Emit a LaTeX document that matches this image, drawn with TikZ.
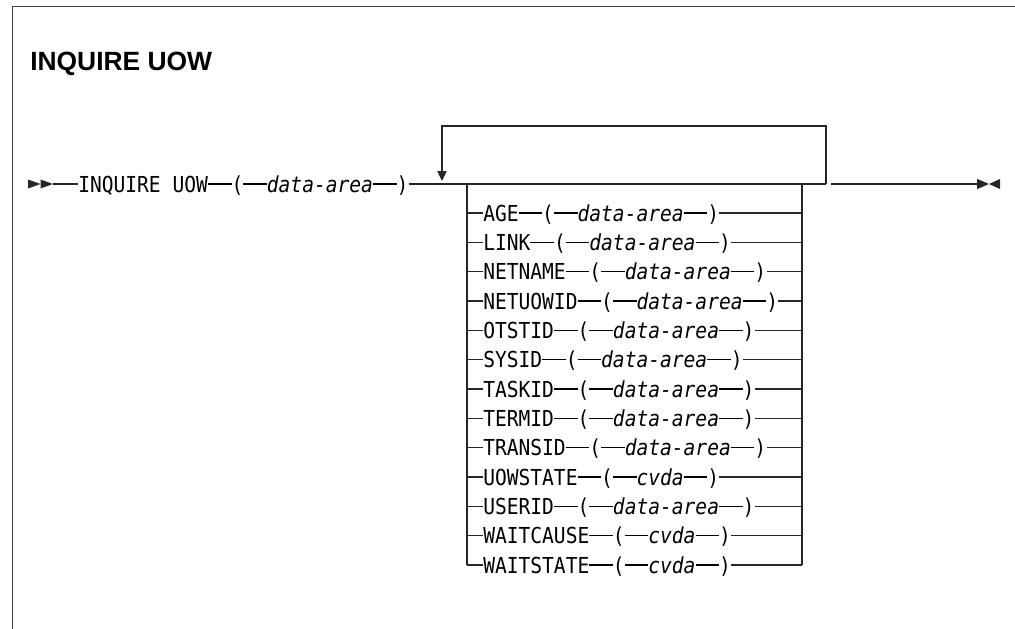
\documentclass[tikz,border=0pt]{standalone}
\usepackage{fontspec}
\setmainfont{Liberation Sans}
\newfontfamily\synmono[FakeStretch=0.89]{DejaVu Sans Mono}
\usepackage{tikz}
\usetikzlibrary{arrows.meta, positioning}
\newcommand{\synline}{\rule[5.55pt]{17.7pt}{0.9pt}}
\newcommand{\synvar}[1]{\textit{#1}}

\begin{document}
\begin{tikzpicture}[
    x=0.75pt, y=-0.75pt,
    node distance=22pt,
    heading/.style={
        inner sep=0pt,
        anchor=base west,
        font=\fontsize{19.8}{22}\selectfont\bfseries
    },
    kw/.style={
        inner sep=0pt,
        anchor=west,
        text height=14pt,
        text depth=2pt,
        font=\synmono\fontsize{16.5}{18}\selectfont
    },
    opt/.style={kw},
    rail/.style={line width=0.9pt, draw=black!85},
    frame/.style={line width=1.4pt, draw=black!75},
    tip/.style={fill=black!85},
    arrow/.style={-{Triangle[length=7.5pt,width=7pt]}, rail}
]
\useasboundingbox (0,0) rectangle (1015,629);

% frame and heading
\draw[frame] (1015,6.5) -- (12.5,6.5) -- (12.5,629);
\node[heading] (title) at (30,70) {INQUIRE UOW};

% main line
\coordinate (start) at (28,184);
\coordinate (startend) at (53,184);
\node[kw] (inq) at (78,184) {INQUIRE UOW\synline(\synline\synvar{data-area}\synline)};
\coordinate (loopin) at (442,184);
\coordinate (brl) at (467,184);
\coordinate (brr) at (802,184);
\coordinate (loopout) at (826,184);
\coordinate (barl) at (831,184);
\coordinate (barr) at (856,184);
\coordinate (stop) at (989,184);
\fill[tip] (start) ++(0,-4.5) -- ++(12.5,4.5) -- ++(-12.5,4.5) -- cycle;
\fill[tip] (start) ++(12.5,-4.5) -- ++(12.5,4.5) -- ++(-12.5,4.5) -- cycle;
\draw[rail] (startend) -- (inq.west);
\draw[rail] (inq.east) -- (loopout);
\draw[line width=2.2pt, draw=black!85] (barl) -- (barr);
\draw[rail, -{Triangle[length=9pt,width=7.5pt]}] (barr) -- (stop);
\fill[tip] (stop) -- ++(11,-5) -- ++(0,10) -- cycle;

% repeat loop
\draw[arrow, shorten >=2.25pt] (loopout) -- (loopout |- 0,126) -| (loopin);

% options
\node[opt] (age) at (483,213) {AGE\synline(\synline\synvar{data-area}\synline)};
\node[opt, below=of age.west, anchor=west] (link) {LINK\synline(\synline\synvar{data-area}\synline)};
\node[opt, below=of link.west, anchor=west] (netname) {NETNAME\synline(\synline\synvar{data-area}\synline)};
\node[opt, below=of netname.west, anchor=west] (netuowid) {NETUOWID\synline(\synline\synvar{data-area}\synline)};
\node[opt, below=of netuowid.west, anchor=west] (otstid) {OTSTID\synline(\synline\synvar{data-area}\synline)};
\node[opt, below=of otstid.west, anchor=west] (sysid) {SYSID\synline(\synline\synvar{data-area}\synline)};
\node[opt, below=of sysid.west, anchor=west] (taskid) {TASKID\synline(\synline\synvar{data-area}\synline)};
\node[opt, below=of taskid.west, anchor=west] (termid) {TERMID\synline(\synline\synvar{data-area}\synline)};
\node[opt, below=of termid.west, anchor=west] (transid) {TRANSID\synline(\synline\synvar{data-area}\synline)};
\node[opt, below=of transid.west, anchor=west] (uowstate) {UOWSTATE\synline(\synline\synvar{cvda}\synline)};
\node[opt, below=of uowstate.west, anchor=west] (userid) {USERID\synline(\synline\synvar{data-area}\synline)};
\node[opt, below=of userid.west, anchor=west] (waitcause) {WAITCAUSE\synline(\synline\synvar{cvda}\synline)};
\node[opt, below=of waitcause.west, anchor=west] (waitstate) {WAITSTATE\synline(\synline\synvar{cvda}\synline)};

% branch rails
\draw[rail] (brl) -- (brl |- waitstate.west);
\draw[rail] (brr) -- (brr |- waitstate.east);
\draw[rail] (brl |- age.west) -- (age.west);
\draw[rail] (age.east) -- (brr |- age.east);
\draw[rail] (brl |- link.west) -- (link.west);
\draw[rail] (link.east) -- (brr |- link.east);
\draw[rail] (brl |- netname.west) -- (netname.west);
\draw[rail] (netname.east) -- (brr |- netname.east);
\draw[rail] (brl |- netuowid.west) -- (netuowid.west);
\draw[rail] (netuowid.east) -- (brr |- netuowid.east);
\draw[rail] (brl |- otstid.west) -- (otstid.west);
\draw[rail] (otstid.east) -- (brr |- otstid.east);
\draw[rail] (brl |- sysid.west) -- (sysid.west);
\draw[rail] (sysid.east) -- (brr |- sysid.east);
\draw[rail] (brl |- taskid.west) -- (taskid.west);
\draw[rail] (taskid.east) -- (brr |- taskid.east);
\draw[rail] (brl |- termid.west) -- (termid.west);
\draw[rail] (termid.east) -- (brr |- termid.east);
\draw[rail] (brl |- transid.west) -- (transid.west);
\draw[rail] (transid.east) -- (brr |- transid.east);
\draw[rail] (brl |- uowstate.west) -- (uowstate.west);
\draw[rail] (uowstate.east) -- (brr |- uowstate.east);
\draw[rail] (brl |- userid.west) -- (userid.west);
\draw[rail] (userid.east) -- (brr |- userid.east);
\draw[rail] (brl |- waitcause.west) -- (waitcause.west);
\draw[rail] (waitcause.east) -- (brr |- waitcause.east);
\draw[rail] (brl |- waitstate.west) -- (waitstate.west);
\draw[rail] (waitstate.east) -- (brr |- waitstate.east);

\end{tikzpicture}
\end{document}
